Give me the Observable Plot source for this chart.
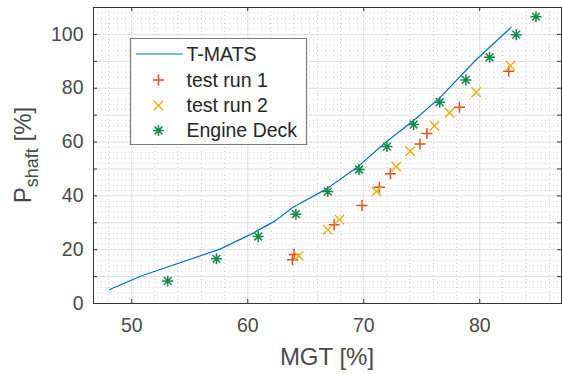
<!DOCTYPE html>
<html><head><meta charset="utf-8">
<script src="https://cdn.jsdelivr.net/npm/d3@7"></script>
<script src="https://cdn.jsdelivr.net/npm/@observablehq/plot@0.6"></script>
<style>body{margin:0;background:#fff}#chart{width:562px;height:374px}</style>
</head><body><div id="chart"></div>
<script>
// ---- data ----
const tmatsMGT = [48.1, 50.8, 57.6, 60.2, 62.4, 63.9, 66.8, 69.4, 71.9, 74.3, 76.6, 79.6, 82.7];
const tmatsP   = [5.2, 10.2, 20.2, 25.6, 30.8, 35.8, 42.6, 50.5, 59.9, 68.0, 76.6, 90.2, 102.6];

const run1MGT = [63.85, 64.0, 67.45, 69.85, 71.35, 72.3, 74.85, 75.45, 78.25, 82.5];
const run1P   = [16.3, 18.2, 29.3, 36.4, 43.2, 48.2, 59.3, 63.2, 72.9, 86.3];

const run2MGT = [64.4, 66.9, 67.9, 71.1, 72.8, 74.0, 76.1, 77.4, 79.7, 82.65];
const run2P   = [17.7, 27.4, 31.2, 41.7, 50.9, 56.6, 66.0, 70.9, 78.5, 88.4];

const deckMGT = [53.1, 57.3, 60.9, 64.15, 66.9, 69.6, 72.0, 74.3, 76.55, 78.8, 80.85, 83.15, 84.85];
const deckP   = [8.4, 16.6, 24.9, 33.2, 41.6, 49.8, 58.3, 66.5, 74.8, 83.1, 91.5, 99.9, 106.6];

const xTickValues = [50, 60, 70, 80];
const yTickValues = [0, 20, 40, 60, 80, 100];
const yTickMarks  = [0, 10, 20, 30, 40, 50, 60, 70, 80, 90, 100, 110];
const xMinor = [48, 52, 54, 56, 58, 62, 64, 66, 68, 72, 74, 76, 78, 82, 84, 86];
const yMinor = d3.range(2, 110, 2).filter(v => v % 10 !== 0);

const seriesNames = ["T-MATS", "test run 1", "test run 2", "Engine Deck"];
const colors = {line: "#0072BD", run1: "#D95319", run2: "#EDB120", deck: "#138A4C"};

const toRows = (xs, ys) => xs.map((x, i) => ({x, y: ys[i]}));
const tmats = toRows(tmatsMGT, tmatsP);
const run1 = toRows(run1MGT, run1P);
const run2 = toRows(run2MGT, run2P);
const deck = toRows(deckMGT, deckP);

// ---- custom stroke symbols ----
const plusSym = {draw(c, s) {const r = Math.sqrt(s / Math.PI); c.moveTo(-r, 0); c.lineTo(r, 0); c.moveTo(0, -r); c.lineTo(0, r);}};
const timesSym = {draw(c, s) {const r = Math.sqrt(s / Math.PI) * 0.85; c.moveTo(-r, -r); c.lineTo(r, r); c.moveTo(-r, r); c.lineTo(r, -r);}};
const starSym = {draw(c, s) {const r = Math.sqrt(s / Math.PI); const d = r * 0.707;
  c.moveTo(-r, 0); c.lineTo(r, 0); c.moveTo(0, -r); c.lineTo(0, r);
  c.moveTo(-d, -d); c.lineTo(d, d); c.moveTo(-d, d); c.lineTo(d, -d);}};

const W = 562, H = 374, mL = 93, mR = 1, mT = 7, mB = 71;
const innerW = W - mL - mR, innerH = H - mT - mB;
const font = "'Liberation Sans', Arial, Helvetica, sans-serif";
const tickLen = 4;
const mr = 5.5, msw = 1.5;

const chart = Plot.plot({
  width: W, height: H,
  marginLeft: mL, marginRight: mR, marginTop: mT, marginBottom: mB,
  style: {fontFamily: font, background: "#fff", overflow: "visible"},
  x: {domain: [46.7, 87.05]},
  y: {domain: [0, 110]},
  marks: [
    Plot.ruleX(xMinor, {x: d => d, stroke: "#cfcfcf", strokeDasharray: "1,3", strokeWidth: 1}),
    Plot.ruleY(yMinor, {y: d => d, stroke: "#cfcfcf", strokeDasharray: "1,3", strokeWidth: 1}),
    Plot.ruleX(xTickValues, {x: d => d, stroke: "#dedede", strokeWidth: 1}),
    Plot.ruleY(yTickMarks, {y: d => d, stroke: "#dedede", strokeWidth: 1}),
    Plot.line(tmats, {x: "x", y: "y", stroke: colors.line, strokeWidth: 1.2}),
    Plot.dot(run1, {x: "x", y: "y", symbol: plusSym, r: mr, stroke: colors.run1, fill: "none", strokeWidth: msw}),
    Plot.dot(run2, {x: "x", y: "y", symbol: timesSym, r: mr, stroke: colors.run2, fill: "none", strokeWidth: msw}),
    Plot.dot(deck, {x: "x", y: "y", symbol: starSym, r: mr, stroke: colors.deck, fill: "none", strokeWidth: msw}),
    Plot.frame({stroke: "#333", strokeWidth: 1}),
    Plot.tickX(xTickValues, {x: d => d, insetTop: innerH - tickLen, stroke: "#333"}),
    Plot.tickX(xTickValues, {x: d => d, insetBottom: innerH - tickLen, stroke: "#333"}),
    Plot.tickY(yTickMarks, {y: d => d, insetRight: innerW - tickLen, stroke: "#333"}),
    Plot.tickY(yTickMarks, {y: d => d, insetLeft: innerW - tickLen, stroke: "#333"}),
    Plot.axisX(xTickValues, {tickSize: 0, tickPadding: 15, fontSize: 19.5, fill: "#4a4a4a", label: null}),
    Plot.axisY(yTickValues, {tickSize: 0, tickPadding: 10, fontSize: 19.5, fill: "#4a4a4a", label: null})
  ]
});
document.getElementById("chart").appendChild(chart);

const svg = d3.select(chart);
// axis labels
svg.append("text").attr("x", 327).attr("y", 365).attr("text-anchor", "middle")
  .attr("font-family", font).attr("font-size", 24).attr("fill", "#4a4a4a").text("MGT [%]");
const yl = svg.append("text").attr("transform", "translate(31,155) rotate(-90)").attr("text-anchor", "middle")
  .attr("font-family", font).attr("font-size", 24).attr("fill", "#4a4a4a");
yl.append("tspan").text("P");
yl.append("tspan").attr("font-size", 18).attr("dy", 7).text("shaft");
yl.append("tspan").attr("dy", -7).text(" [%]");

// legend
const lg = svg.append("g").attr("transform", "translate(130.5,38.5)");
lg.append("path").attr("d", "M0,0H176V106H0Z")
  .style("fill", "#ffffff").style("stroke", "#7a7a7a").style("stroke-width", "1.2px");
const rowY = [15.5, 41.5, 67, 92];
const symFor = [null, plusSym, timesSym, starSym];
const colFor = [colors.line, colors.run1, colors.run2, colors.deck];
seriesNames.forEach((name, i) => {
  if (i === 0) {
    lg.append("line").attr("x1", 5.5).attr("x2", 52).attr("y1", rowY[i]).attr("y2", rowY[i])
      .attr("stroke", colFor[i]).attr("stroke-width", 1.2);
  } else {
    lg.append("path").attr("transform", `translate(28,${rowY[i]})`)
      .attr("d", d3.symbol(symFor[i], Math.PI * mr * mr)())
      .attr("fill", "none").attr("stroke", colFor[i]).attr("stroke-width", msw);
  }
  lg.append("text").attr("x", 56).attr("y", rowY[i]).attr("dy", "0.35em").attr("text-anchor", "start")
    .attr("font-family", font).attr("font-size", 19.5).attr("fill", "#262626").text(name);
});
</script></body></html>
